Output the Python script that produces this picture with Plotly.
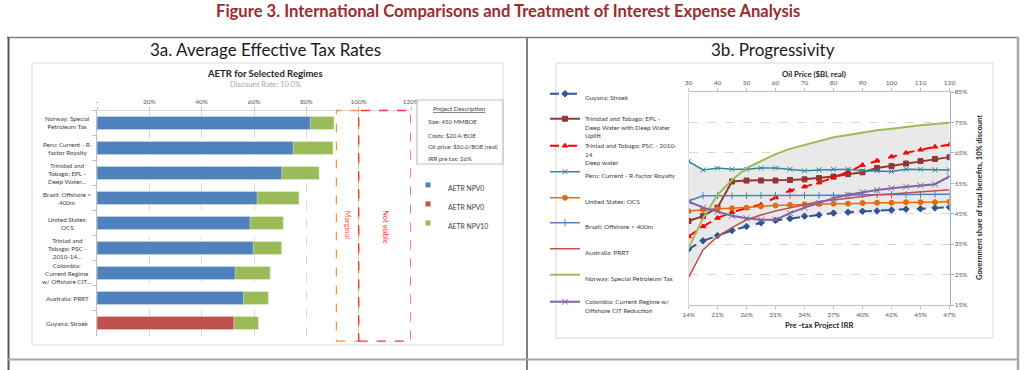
import plotly.graph_objects as go

W, H = 1024, 370
def px(x): return x / W
def py(y): return 1 - y / H

FONT = "Lato, Noto Sans, sans-serif"
TXT = "#404040"

# ---------------- 3a data ----------------
regimes = ["Norway: Special<br>Petroleum Tax", "Peru: Current - R-<br>factor Royalty",
           "Trinidad and<br>Tobago; EPL -<br>Deep Water…", "Brazil: Offshore ><br>400m",
           "United States:<br>OCS", "Triniad and<br>Tobago; PSC -<br>2010-14…",
           "Colombia:<br>Current Regime<br>w/ Offshore CIT…", "Australia: PRRT", "Guyana: Stroek"]
aetr_npv0_blue = [81.5, 75.0, 70.6, 61.2, 58.5, 59.7, 52.8, 56.0, None]
aetr_npv0_red = [None, None, None, None, None, None, None, None, 52.3]
aetr_npv10 = [90.6, 90.2, 84.9, 77.2, 71.2, 70.6, 66.2, 65.5, 61.7]
aetr_tickvals = [0, 20, 40, 60, 80, 100, 120]
aetr_ticktext = ["-", "20%", "40%", "60%", "80%", "100%", "120%"]
marginal_band = [91.5, 100]
not_viable_band = [100, 120]
project_lines = ["Size: 450 MMBOE", "Costs: $20.4/BOE", "Oil price: $50.0/BOE (real)", "IRR pre tax: 26%"]

# ---------------- 3b data ----------------
oil_price = [30, 35, 40, 45, 50, 55, 60, 65, 70, 75, 80, 85, 90, 95, 100, 105, 110, 115, 120]
oil_ticks = [30, 40, 50, 60, 70, 80, 90, 100, 110, 120]
irr_labels = ["14%", "21%", "26%", "31%", "34%", "37%", "40%", "42%", "45%", "47%"]
share_ticks = [15, 25, 35, 45, 55, 65, 75, 85]
share_labels = ["15%", "25%", "35%", "45%", "55%", "65%", "75%", "85%"]

guyana = [33.4, 36.1, 37.8, 39.5, 40.8, 42.0, 42.8, 43.4, 44.2, 44.6, 45.2, 45.5, 45.8, 45.9, 46.2, 46.5, 46.6, 46.9, 47.1]
tt_epl = [42.6, 44.2, 47.0, 55.6, 55.9, 55.9, 55.9, 56.1, 56.3, 56.7, 57.2, 58.0, 58.6, 60.0, 60.7, 61.5, 62.3, 63.0, 63.6]
tt_psc = [37.5, 40.8, 43.6, 45.5, 46.8, 48.0, 50.3, 52.6, 53.9, 55.2, 56.9, 58.7, 61.0, 62.4, 63.8, 65.0, 66.0, 67.0, 67.7]
peru = [62.2, 59.4, 60.0, 59.6, 59.6, 60.0, 60.0, 59.6, 59.1, 59.4, 59.6, 59.6, 59.1, 59.1, 58.9, 59.6, 59.6, 59.4, 59.4]
us_ocs = [45.9, 46.3, 46.6, 46.8, 47.0, 47.4, 47.7, 47.9, 48.1, 48.2, 48.3, 48.3, 48.5, 48.6, 48.6, 48.8, 48.8, 48.8, 49.0]
brazil = [49.2, 50.9, 50.9, 50.9, 50.9, 51.0, 51.0, 51.0, 51.0, 51.0, 51.1, 51.1, 51.2, 51.2, 51.3, 51.3, 51.3, 51.4, 51.4]
australia = [24.0, 33.1, 37.5, 40.4, 43.0, 44.6, 45.9, 47.0, 48.1, 49.0, 49.5, 50.1, 50.6, 51.2, 51.5, 51.9, 52.2, 52.5, 52.9]
norway = [33.6, 43.5, 51.2, 56.1, 60.0, 62.4, 64.6, 66.3, 67.6, 69.0, 70.1, 70.9, 71.7, 72.4, 72.9, 73.6, 74.1, 74.5, 74.9]
colombia = [49.0, 47.0, 45.7, 44.3, 43.5, 43.0, 43.0, 45.2, 47.0, 48.5, 50.1, 51.2, 52.1, 52.8, 53.4, 53.9, 54.3, 54.7, 57.3]

series = [
    ("Guyana: Stroek", guyana, "#2F5597", "dash", 2, "diamond", 5),
    ("Trinidad and Tobago; EPL -<br>Deep Water with Deep Water<br>Uplift", tt_epl, "#943634", "solid", 2, "square", 5),
    ("Triniad and Tobago; PSC - 2010-<br>14<br>Deep water", tt_psc, "#FF0000", "dash", 2, "triangle-up", 5),
    ("Peru: Current - R-factor Royalty", peru, "#31859C", "solid", 1.5, "x-thin-open", 5),
    ("United States: OCS", us_ocs, "#E46C0A", "solid", 1.5, "circle", 5),
    ("Brazil: Offshore > 400m", brazil, "#4F81BD", "solid", 1.5, "line-ns-open", 5),
    ("Australia: PRRT", australia, "#C0504D", "solid", 1.5, None, 0),
    ("Norway: Special Petroleum Tax", norway, "#9BBB59", "solid", 2, None, 0),
    ("Colombia: Current Regime w/<br>Offshore CIT Reduction", colombia, "#8064A2", "solid", 2, "x-thin-open", 6),
]
legend_first_line_y = [94, 119, 146, 172, 198, 223, 249, 275, 302]

BLUE, RED, GREEN = "#4F81BD", "#C0504D", "#9BBB59"

fig = go.Figure()

# ---- 3a bars (overlay: NPV10 behind, NPV0 in front)
bar_w = 0.52
fig.add_trace(go.Bar(x=aetr_npv10, y=regimes, orientation="h", width=bar_w,
                     marker=dict(color=GREEN, line=dict(color="#E6EED5", width=0.6)),
                     showlegend=False, hoverinfo="skip", xaxis="x", yaxis="y"))
fig.add_trace(go.Bar(x=aetr_npv0_blue, y=regimes, orientation="h", width=bar_w,
                     marker=dict(color=BLUE, line=dict(color="#D6E0EE", width=0.6)),
                     showlegend=False, hoverinfo="skip", xaxis="x", yaxis="y"))
fig.add_trace(go.Bar(x=aetr_npv0_red, y=regimes, orientation="h", width=bar_w,
                     marker=dict(color=RED, line=dict(color="#EED6D6", width=0.6)),
                     showlegend=False, hoverinfo="skip", xaxis="x", yaxis="y"))
for nm, col in [("AETR NPV0", BLUE), ("AETR NPV0", RED), ("AETR NPV10", GREEN)]:
    fig.add_trace(go.Scatter(x=[None], y=[None], mode="markers", name=nm,
                             marker=dict(symbol="square", size=5, color=col),
                             legend="legend", xaxis="x", yaxis="y"))

# ---- 3b envelope (grey band) on base axis
env_min = [min(v) for v in zip(*[s[1] for s in series])]
env_max = [max(v) for v in zip(*[s[1] for s in series])]
fig.add_trace(go.Scatter(x=oil_price, y=env_min, mode="lines", line=dict(width=0),
                         showlegend=False, hoverinfo="skip", xaxis="x2", yaxis="y2"))
fig.add_trace(go.Scatter(x=oil_price, y=env_max, mode="lines", line=dict(width=0),
                         fill="tonexty", fillcolor="#E9E9E9",
                         showlegend=False, hoverinfo="skip", xaxis="x2", yaxis="y2"))

# ---- 3b lines on the overlaying (top, oil price) axis
for i, (nm, vals, col, dash, lw, sym, ms) in enumerate(series):
    mode = "lines+markers" if sym else "lines"
    mk = dict(symbol=sym, size=ms, color=col, line=dict(color=col, width=1)) if sym else None
    fig.add_trace(go.Scatter(x=oil_price, y=vals, mode=mode, name=nm,
                             line=dict(color=col, width=lw, dash=dash),
                             marker=mk, legend=("legend%d" % (i + 2)),
                             xaxis="x3", yaxis="y2"))

GRID = "#D9D9D9"
tickfont = dict(family=FONT, size=6.5, color="#595959")

layout = dict(
    width=W, height=H, margin=dict(l=0, r=0, t=0, b=0, autoexpand=False),
    paper_bgcolor="white", plot_bgcolor="rgba(0,0,0,0)",
    font=dict(family=FONT, color=TXT),
    barmode="overlay", showlegend=True,
    xaxis=dict(domain=[px(97), px(411)], range=[0, 120], side="top", anchor="y",
               tickvals=aetr_tickvals, ticktext=aetr_ticktext, tickfont=tickfont,
               showgrid=True, gridcolor=GRID, griddash="dash", gridwidth=1,
               showline=True, linecolor=GRID, ticks="outside", ticklen=3, tickcolor="#BFBFBF",
               zeroline=False, fixedrange=True, automargin=False),
    yaxis=dict(domain=[py(335.5), py(110.5)], autorange="reversed", type="category",
               anchor="x", showticklabels=False, showgrid=False, showline=True,
               linecolor="#BFBFBF", ticks="outside", tickson="boundaries", ticklen=4,
               tickcolor="#BFBFBF", fixedrange=True, automargin=False),
    xaxis2=dict(domain=[px(688.5), px(949.5)], range=[30, 120], anchor="y2", side="bottom",
                tickvals=oil_ticks, ticktext=irr_labels, tickfont=tickfont,
                showgrid=False, showline=True, linecolor="#BFBFBF", ticks="outside",
                ticklen=3, tickcolor="#BFBFBF", zeroline=False, fixedrange=True, automargin=False),
    xaxis3=dict(range=[30, 120], overlaying="x2", anchor="y2", side="top",
                tickvals=oil_ticks, tickfont=tickfont, showgrid=False, showline=True,
                linecolor="#BFBFBF", ticks="outside", ticklen=3, tickcolor="#BFBFBF",
                zeroline=False, fixedrange=True, automargin=False),
    yaxis2=dict(domain=[py(305), py(92)], range=[15, 85], anchor="x2", side="right",
                tickvals=share_ticks, ticktext=share_labels, tickfont=tickfont,
                showgrid=True, gridcolor=GRID, griddash="dash", showline=True,
                linecolor="#95B3D7", ticks="outside", ticklen=3, tickcolor="#95B3D7",
                zeroline=False, fixedrange=True, automargin=False),
)

def leg(xpx, ypx, size=6.5):
    return dict(x=px(xpx), y=py(ypx), xanchor="left", yanchor="top",
                bgcolor="rgba(0,0,0,0)", borderwidth=0, valign="top",
                font=dict(family=FONT, size=size, color=TXT), tracegroupgap=0,
                traceorder="normal", itemclick=False, itemdoubleclick=False)

LEG_OFF = 11
layout["legend"] = leg(408, 185 - LEG_OFF, 6.8)
for i, yy in enumerate(legend_first_line_y):
    layout["legend%d" % (i + 2)] = leg(545, yy - LEG_OFF)

fig.update_layout(**layout)

# ---- annotations
ann = []
def text(x, y, t, size, color=TXT, bold=False, xanchor="center", angle=0, family=FONT, align="center"):
    ann.append(dict(x=px(x), y=py(y), xref="paper", yref="paper", text=("<b>%s</b>" % t) if bold else t,
                    showarrow=False, xanchor=xanchor, yanchor="middle", textangle=angle, align=align,
                    font=dict(family=family, size=size, color=color)))

text(508, 11, "Figure 3. International Comparisons and Treatment of Interest Expense Analysis", 16.6,
     color="#9C2B2E", bold=True)
text(265, 50, "3a. Average Effective Tax Rates", 17, color="#1A1A1A")
text(773, 50, "3b. Progressivity", 17, color="#1A1A1A")
text(265, 73, "AETR for Selected Regimes", 9.5, color="#262626", bold=True)
text(265, 84, "Discount Rate: 10.0%", 7.5, color="#A6A6A6")
text(814, 74, "Oil Price ($Bl, real)", 7.8, color="#262626", bold=True)
text(819, 325, "Pre -tax Project IRR", 7.8, color="#262626", bold=True)
text(979, 198, "Government share of total benefits, 10% discount", 7.5, color="#262626", bold=True, angle=-90)

# project description box text
text(459, 108, '<span style="text-decoration:underline">Project Description</span>', 6.2)
for t, yy in zip(project_lines, [122, 135, 146, 158]):
    text(426, yy, t, 6.0, xanchor="left")

# category labels (centred blocks)
for r in regimes:
    ann.append(dict(x=px(67), xref="paper", y=r, yref="y", text=r, showarrow=False,
                    xanchor="center", yanchor="middle", align="center",
                    font=dict(family=FONT, size=6.3, color="#404040")))

# band labels
ann.append(dict(x=sum(marginal_band) / 2, xref="x", y=py(225), yref="paper", text="Marginal",
                showarrow=False, textangle=90, font=dict(family=FONT, size=7.5, color="#F4673A")))
ann.append(dict(x=sum(not_viable_band) / 2, xref="x", y=py(227), yref="paper", text="Not viable",
                showarrow=False, textangle=90, font=dict(family=FONT, size=7.5, color="#FF3333")))

fig.update_layout(annotations=ann)

# ---- shapes
shapes = []
def line(x0, y0, x1, y1, color="#808080", width=1.5):
    shapes.append(dict(type="line", xref="paper", yref="paper", x0=px(x0), y0=py(y0), x1=px(x1), y1=py(y1),
                       line=dict(color=color, width=width), layer="above"))
def rect(x0, y0, x1, y1, color="#D9D9D9", width=1, fill="rgba(0,0,0,0)", layer="below"):
    shapes.append(dict(type="rect", xref="paper", yref="paper", x0=px(x0), y0=py(y0), x1=px(x1), y1=py(y1),
                       line=dict(color=color, width=width), fillcolor=fill, layer=layer))

# table frame
line(7, 37.5, 1019, 37.5, "#7F7F7F", 1.5)
line(8.5, 37, 8.5, 370, "#595959", 2)
line(527, 37, 527, 370, "#7F7F7F", 2)
line(1018, 37, 1018, 370, "#A6A6A6", 2.5)
line(8, 359.5, 1018, 359.5, "#A6A6A6", 2)
# chart borders
rect(32, 63, 503, 345)
rect(556, 63, 993, 338)
# project description box
rect(417, 100, 503, 164, color="#BFBFBF", width=1.2, fill="white", layer="above")
# bands
shapes.append(dict(type="rect", xref="x", yref="y domain", x0=marginal_band[0], x1=marginal_band[1],
                   y0=-0.025, y1=1, line=dict(color="#F79646", width=1.3, dash="dash"), layer="above"))
shapes.append(dict(type="rect", xref="x", yref="y domain", x0=not_viable_band[0], x1=not_viable_band[1],
                   y0=-0.025, y1=1, line=dict(color="#FF3333", width=1.3, dash="dash"), layer="above"))
# left edge of 3b plot area
shapes.append(dict(type="line", xref="x2 domain", yref="y2 domain", x0=0, x1=0, y0=0, y1=1,
                   line=dict(color="#D9D9D9", width=1)))
fig.update_layout(shapes=shapes)

fig.write_html("out.html", config={"displayModeBar": False},
               post_script="document.body.style.margin='0px';")
